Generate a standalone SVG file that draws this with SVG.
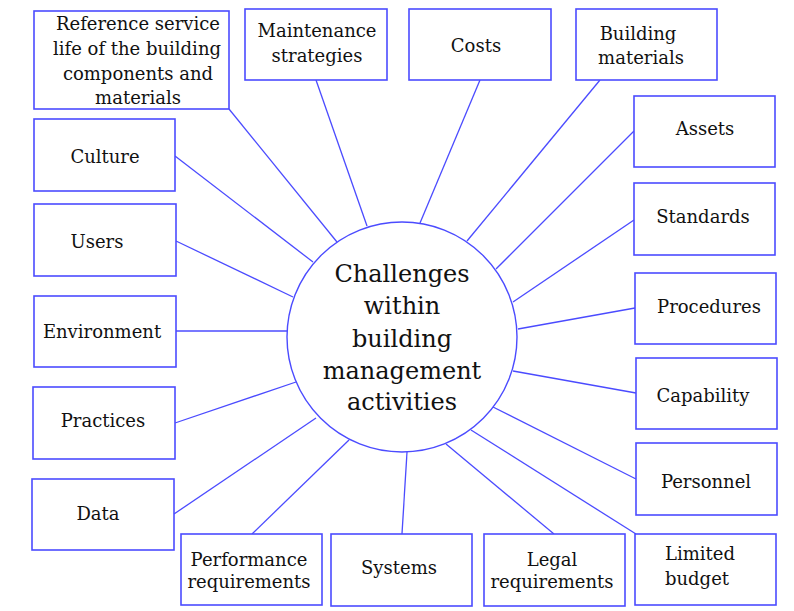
<svg xmlns="http://www.w3.org/2000/svg" width="794" height="611" viewBox="0 0 794 611">
<style>
rect.box{fill:#fff;stroke:#4b4bff;stroke-width:1.6}
circle.hub{fill:#fff;stroke:#4b4bff;stroke-width:1.4}
#connectors line{stroke:#4b4bff;stroke-width:1.3}
text{font-family:"DejaVu Serif","Liberation Serif",serif;fill:#111;text-anchor:middle}
text.lbl{font-size:18px}
text.hubt{font-size:24px}
</style>
<rect width="794" height="611" fill="#fff"/>
<g id="connectors">
<line x1="229" y1="109" x2="337" y2="242"/>
<line x1="316" y1="80" x2="367" y2="226"/>
<line x1="480" y1="80" x2="420" y2="223"/>
<line x1="600" y1="80" x2="467" y2="241"/>
<line x1="175" y1="156" x2="313" y2="262"/>
<line x1="634" y1="131" x2="496" y2="269"/>
<line x1="176" y1="241" x2="293" y2="297"/>
<line x1="634" y1="220" x2="513" y2="302"/>
<line x1="176" y1="331" x2="287" y2="331"/>
<line x1="635" y1="308" x2="518" y2="329"/>
<line x1="175" y1="423" x2="296" y2="382"/>
<line x1="636" y1="393" x2="513" y2="371"/>
<line x1="174" y1="514" x2="316" y2="418"/>
<line x1="636" y1="479" x2="493" y2="407"/>
<line x1="252" y1="534" x2="349" y2="440"/>
<line x1="402" y1="534" x2="407" y2="452"/>
<line x1="554" y1="534" x2="446" y2="444"/>
<line x1="636" y1="534" x2="471" y2="430"/>
</g>
<g id="hub">
<circle class="hub" cx="402" cy="337" r="115"/>
<text class="hubt" x="402" y="282">Challenges</text>
<text class="hubt" x="402" y="314">within</text>
<text class="hubt" x="402" y="347">building</text>
<text class="hubt" x="402" y="379">management</text>
<text class="hubt" x="402" y="410">activities</text>
</g>
<g id="reference">
<rect class="box" x="34" y="11" width="195" height="98"/>
<text class="lbl" x="138" y="30">Reference service</text>
<text class="lbl" x="137" y="55">life of the building</text>
<text class="lbl" x="138" y="80">components and</text>
<text class="lbl" x="138" y="104">materials</text>
</g>
<g id="maintenance">
<rect class="box" x="245" y="9" width="142" height="71"/>
<text class="lbl" x="317" y="37">Maintenance</text>
<text class="lbl" x="317" y="62">strategies</text>
</g>
<g id="costs">
<rect class="box" x="409" y="9" width="142" height="71"/>
<text class="lbl" x="476" y="52">Costs</text>
</g>
<g id="building-materials">
<rect class="box" x="576" y="9" width="141" height="71"/>
<text class="lbl" x="638" y="40">Building</text>
<text class="lbl" x="641" y="64">materials</text>
</g>
<g id="culture">
<rect class="box" x="34" y="119" width="141" height="72"/>
<text class="lbl" x="105" y="163">Culture</text>
</g>
<g id="assets">
<rect class="box" x="634" y="96" width="141" height="71"/>
<text class="lbl" x="705" y="135">Assets</text>
</g>
<g id="users">
<rect class="box" x="34" y="204" width="142" height="72"/>
<text class="lbl" x="97" y="248">Users</text>
</g>
<g id="standards">
<rect class="box" x="634" y="183" width="141" height="72"/>
<text class="lbl" x="703" y="223">Standards</text>
</g>
<g id="environment">
<rect class="box" x="34" y="296" width="142" height="71"/>
<text class="lbl" x="102" y="338">Environment</text>
</g>
<g id="procedures">
<rect class="box" x="635" y="273" width="141" height="71"/>
<text class="lbl" x="709" y="313">Procedures</text>
</g>
<g id="practices">
<rect class="box" x="33" y="387" width="142" height="72"/>
<text class="lbl" x="103" y="427">Practices</text>
</g>
<g id="capability">
<rect class="box" x="636" y="358" width="141" height="71"/>
<text class="lbl" x="703" y="402">Capability</text>
</g>
<g id="data">
<rect class="box" x="32" y="479" width="142" height="71"/>
<text class="lbl" x="98" y="520">Data</text>
</g>
<g id="personnel">
<rect class="box" x="636" y="443" width="141" height="72"/>
<text class="lbl" x="706" y="488">Personnel</text>
</g>
<g id="performance">
<rect class="box" x="181" y="534" width="141" height="71"/>
<text class="lbl" x="249" y="566">Performance</text>
<text class="lbl" x="249" y="588">requirements</text>
</g>
<g id="systems">
<rect class="box" x="331" y="534" width="141" height="72"/>
<text class="lbl" x="399" y="574">Systems</text>
</g>
<g id="legal">
<rect class="box" x="484" y="534" width="141" height="72"/>
<text class="lbl" x="552" y="566">Legal</text>
<text class="lbl" x="552" y="588">requirements</text>
</g>
<g id="limited-budget">
<rect class="box" x="635" y="534" width="141" height="71"/>
<text class="lbl" x="700" y="560">Limited</text>
<text class="lbl" x="697" y="585">budget</text>
</g>
</svg>
